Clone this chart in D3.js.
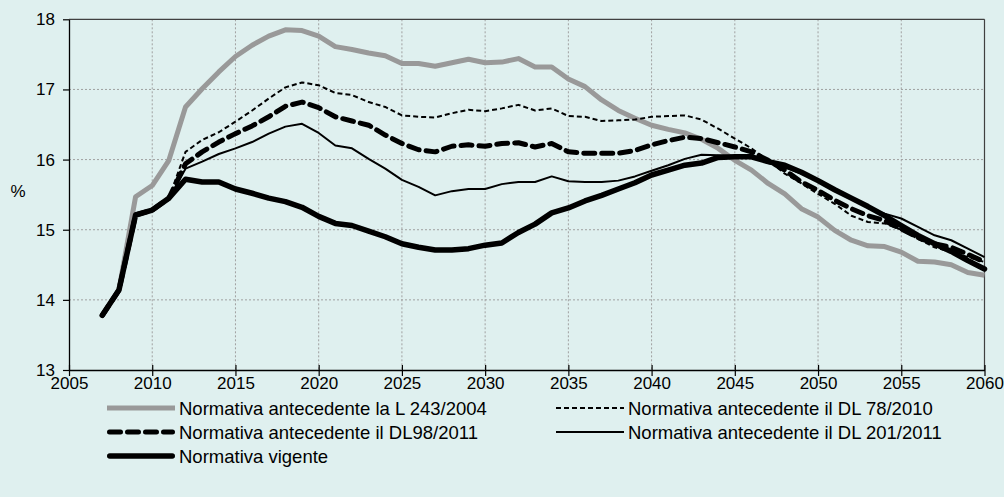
<!DOCTYPE html>
<html><head><meta charset="utf-8">
<script src="https://cdn.jsdelivr.net/npm/d3@7"></script>
<style>
html,body{margin:0;padding:0;background:#dff0ef;}
svg{display:block;font-family:"Liberation Sans",Arial,sans-serif;}
</style></head>
<body><svg id="chart" width="1004" height="497"></svg>
<script>
const years = d3.range(2007, 2061);
const xTicks = [2005,2010,2015,2020,2025,2030,2035,2040,2045,2050,2055,2060];
const yTicks = [13,14,15,16,17,18];
const seriesNames = [
  "Normativa antecedente la L 243/2004",
  "Normativa antecedente il DL 78/2010",
  "Normativa antecedente il DL98/2011",
  "Normativa antecedente  il DL 201/2011",
  "Normativa vigente"
];
const sL243 = [13.78,14.14,15.47,15.63,15.99,16.75,17.01,17.25,17.47,17.63,17.76,17.85,17.84,17.76,17.61,17.57,17.52,17.48,17.37,17.37,17.33,17.38,17.43,17.38,17.39,17.44,17.32,17.32,17.15,17.04,16.85,16.70,16.59,16.49,16.43,16.38,16.29,16.16,15.99,15.85,15.66,15.51,15.30,15.18,14.99,14.85,14.77,14.76,14.68,14.55,14.54,14.50,14.39,14.35];
const sDL78 = [13.78,14.14,15.21,15.28,15.45,16.11,16.28,16.39,16.54,16.70,16.87,17.03,17.10,17.06,16.95,16.92,16.82,16.75,16.63,16.61,16.60,16.66,16.71,16.69,16.73,16.78,16.70,16.73,16.62,16.61,16.55,16.56,16.57,16.61,16.62,16.63,16.57,16.44,16.30,16.16,15.99,15.80,15.66,15.51,15.37,15.20,15.11,15.09,15.00,14.87,14.75,14.68,14.61,14.54];
const sDL98 = [13.78,14.14,15.21,15.28,15.45,15.94,16.11,16.25,16.37,16.48,16.61,16.76,16.82,16.74,16.61,16.55,16.49,16.35,16.23,16.14,16.11,16.19,16.21,16.19,16.23,16.24,16.18,16.23,16.11,16.09,16.09,16.09,16.13,16.21,16.27,16.32,16.30,16.24,16.18,16.11,15.99,15.85,15.68,15.56,15.42,15.30,15.20,15.13,15.01,14.89,14.80,14.75,14.65,14.54];
const sDL201 = [13.78,14.14,15.21,15.28,15.45,15.87,15.97,16.08,16.16,16.25,16.37,16.47,16.51,16.38,16.20,16.16,16.01,15.87,15.71,15.61,15.49,15.55,15.58,15.58,15.65,15.68,15.68,15.76,15.69,15.68,15.68,15.70,15.76,15.84,15.92,16.01,16.07,16.06,16.05,16.04,15.95,15.89,15.80,15.70,15.57,15.45,15.31,15.23,15.16,15.04,14.92,14.85,14.73,14.61];
const sVigente = [13.78,14.14,15.21,15.28,15.45,15.72,15.68,15.68,15.58,15.52,15.45,15.40,15.32,15.19,15.09,15.06,14.98,14.90,14.80,14.75,14.71,14.71,14.73,14.78,14.81,14.96,15.08,15.24,15.31,15.41,15.49,15.58,15.67,15.78,15.85,15.92,15.95,16.03,16.04,16.04,15.97,15.92,15.82,15.70,15.57,15.45,15.33,15.20,15.06,14.92,14.80,14.69,14.56,14.44];

const styles = [
  {color:"#999999", width:5, dash:null, cap:"butt"},
  {color:"#000000", width:2, dash:"5,3", cap:"butt"},
  {color:"#000000", width:5, dash:"11,7", cap:"round"},
  {color:"#000000", width:2, dash:null, cap:"butt"},
  {color:"#000000", width:5.5, dash:null, cap:"round"}
];
const allSeries = [sL243, sDL78, sDL98, sDL201, sVigente];

const svg = d3.select("#chart");
const L = 69, R = 984.5, T = 19.3, B = 370;
const x = d3.scaleLinear().domain([2005, 2060]).range([L, R]);
const y = d3.scaleLinear().domain([13, 18]).range([B, T]);

// grid
const g = svg.append("g");
g.selectAll(".vg").data(xTicks.filter(t => t > 2005 && t < 2060)).enter().append("line")
  .attr("x1", d => x(d)).attr("x2", d => x(d)).attr("y1", T).attr("y2", B)
  .attr("stroke", "#a0a0a0").attr("stroke-width", 1).attr("stroke-dasharray", "2,2");
g.selectAll(".hg").data(yTicks.filter(t => t > 13 && t < 18)).enter().append("line")
  .attr("y1", d => y(d)).attr("y2", d => y(d)).attr("x1", L).attr("x2", R)
  .attr("stroke", "#a0a0a0").attr("stroke-width", 1).attr("stroke-dasharray", "2,2");

// frame top/right
svg.append("line").attr("x1", L).attr("x2", R).attr("y1", T).attr("y2", T).attr("stroke", "#404040").attr("stroke-width", 1.2);
svg.append("line").attr("x1", R).attr("x2", R).attr("y1", T).attr("y2", B).attr("stroke", "#404040").attr("stroke-width", 1.2);

// axes
const xAxis = d3.axisBottom(x).tickValues(xTicks).tickFormat(d3.format("d")).tickSizeInner(6).tickSizeOuter(0).tickPadding(1);
const yAxis = d3.axisLeft(y).tickValues(yTicks).tickFormat(d3.format("d")).tickSizeInner(6).tickSizeOuter(0).tickPadding(8);
const gx = svg.append("g").attr("transform", `translate(0,${B})`).call(xAxis);
const gy = svg.append("g").attr("transform", `translate(${L},0)`).call(yAxis);
[gx, gy].forEach(a => {
  a.select(".domain").attr("stroke", "#000").attr("stroke-width", 1.3);
  a.selectAll(".tick line").attr("stroke", "#000").attr("stroke-width", 1.2);
  a.selectAll("text").attr("font-size", 17).attr("fill", "#000").attr("font-family", "Liberation Sans, Arial, sans-serif");
});
gx.selectAll(".tick line").attr("y1", -5).attr("y2", 6);

svg.append("text").attr("x", 18).attr("y", 197).attr("text-anchor", "middle")
  .attr("font-size", 17).text("%");

// lines
const line = d3.line().x((d, i) => x(years[i])).y(d => y(d));
allSeries.forEach((s, k) => {
  const st = styles[k];
  svg.append("path").datum(s).attr("d", line)
    .attr("fill", "none").attr("stroke", st.color).attr("stroke-width", st.width)
    .attr("stroke-linejoin", "round").attr("stroke-linecap", st.cap)
    .attr("stroke-dasharray", st.dash);
});

// legend
const legendPos = [
  {x: 107, y: 408}, {x: 556, y: 408},
  {x: 107, y: 432}, {x: 556, y: 432},
  {x: 107, y: 456}
];
const lg = svg.append("g");
seriesNames.forEach((name, k) => {
  const p = legendPos[k], st = styles[k];
  lg.append("line").attr("x1", p.x + (st.cap === "round" ? st.width/2 : 0)).attr("x2", p.x + 68 - (st.cap === "round" ? st.width/2 : 0))
    .attr("y1", p.y).attr("y2", p.y)
    .attr("stroke", st.color).attr("stroke-width", st.width).attr("stroke-linecap", st.cap)
    .attr("stroke-dasharray", st.dash);
  lg.append("text").attr("x", p.x + 72).attr("y", p.y).attr("dy", "0.36em")
    .attr("font-size", 18.5).text(name);
});
</script></body></html>
